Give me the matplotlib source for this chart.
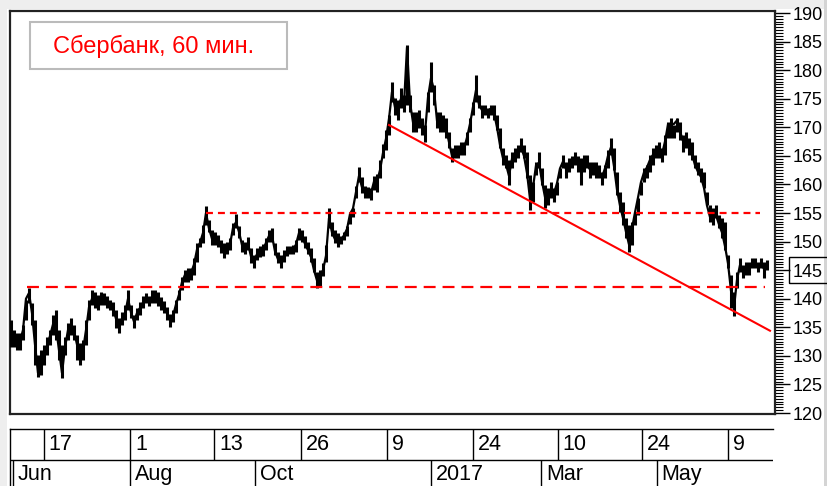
import matplotlib
matplotlib.use('Agg')
import matplotlib.pyplot as plt
from matplotlib.patches import Rectangle
from matplotlib.ticker import MultipleLocator
import numpy as np

plt.rcParams['font.family'] = ['Liberation Sans', 'DejaVu Sans']
plt.rcParams['lines.scale_dashes'] = False

# ---- data (hourly bars, sampled) ----
prices = [
    134.0, 133.0, 132.5, 132.6, 134.5, 140.0, 141.0, 137.5, 132.0, 127.0,
    128.5, 129.5, 131.5, 133.5, 135.5, 135.0, 131.0, 127.0, 131.5, 134.5,
    135.0, 134.3, 132.0, 130.5, 131.0, 134.5, 138.5, 140.0, 139.6, 139.4,
    139.8, 139.7, 139.4, 138.9, 138.4, 136.5, 135.3, 136.5, 137.3, 140.0,
    137.6, 136.0, 137.5, 138.4, 139.3, 139.8, 139.4, 140.3, 140.3, 139.9,
    139.2, 138.5, 137.5, 136.3, 137.0, 139.0, 140.7, 142.9, 144.2, 144.5,
    144.5, 146.0, 148.6, 149.8, 151.5, 155.0, 152.3, 150.5, 150.3, 150.2,
    149.2, 148.5, 148.7, 149.5, 152.4, 153.4, 151.7, 149.4, 148.9, 149.6,
    147.4, 146.6, 147.8, 148.1, 148.5, 149.8, 151.0, 151.0, 148.3, 146.9,
    146.5, 147.5, 148.2, 148.5, 148.5, 149.5, 151.5, 151.0, 149.6, 148.5,
    147.3, 145.0, 143.2, 143.8, 145.0, 147.5, 154.1, 151.6, 150.4, 149.9,
    150.3, 151.1, 152.2, 154.8, 155.8, 158.7, 161.5, 159.5, 158.7, 158.5,
    158.5, 160.5, 160.5, 162.5, 165.5, 168.0, 171.5, 176.2, 173.5, 173.5,
    175.0, 174.0, 184.0, 174.3, 170.9, 170.9, 171.3, 170.1, 169.1, 175.2,
    178.6, 176.5, 171.2, 170.9, 170.7, 169.9, 167.4, 165.0, 165.6, 165.6,
    166.3, 166.3, 168.2, 170.6, 173.5, 176.5, 174.0, 173.0, 173.2, 172.9,
    173.3, 172.5, 170.0, 166.9, 164.6, 163.5, 161.5, 164.5, 165.2, 165.8,
    166.5, 165.0, 162.0, 157.5, 159.5, 163.3, 163.8, 160.5, 157.8, 158.2,
    158.8, 158.5, 160.2, 162.8, 164.0, 162.7, 163.3, 164.2, 164.5, 163.5,
    162.8, 163.8, 163.5, 162.6, 162.7, 162.4, 161.7, 161.3, 162.8, 165.0,
    166.5, 163.2, 159.1, 156.3, 154.1, 151.7, 149.5, 152.3, 155.1, 157.7,
    160.4, 162.1, 163.0, 164.3, 165.2, 165.7, 165.7, 165.3, 167.5, 170.5,
    170.5, 170.6, 171.2, 169.3, 167.6, 167.6, 166.6, 165.3, 163.4, 162.2,
    161.3, 159.4, 156.3, 154.3, 154.4, 154.6, 153.0, 151.6, 149.2, 146.2,
    141.4, 138.5, 143.3, 145.9, 145.0, 145.3, 145.5, 146.2, 146.2, 145.6,
    146.2, 145.2, 146.0,
]
highs = [
    136.3, 134.5, 134.0, 134.0, 135.4, 139.8, 141.9, 139.2, 136.3, 130.2,
    131.0, 131.9, 133.3, 134.5, 137.2, 138.0, 134.5, 131.9, 133.3, 135.8,
    136.6, 135.4, 133.7, 132.3, 132.8, 136.3, 139.8, 141.5, 141.2, 140.6,
    141.2, 141.0, 140.5, 139.8, 139.4, 138.0, 136.6, 137.7, 138.9, 141.5,
    138.9, 137.2, 138.4, 139.4, 140.5, 141.0, 140.5, 141.5, 141.5, 141.2,
    140.3, 139.6, 138.6, 137.3, 138.0, 139.8, 141.5, 143.8, 145.0, 145.4,
    145.4, 147.1, 149.8, 150.6, 152.9, 156.2, 153.8, 152.0, 151.7, 151.2,
    150.3, 149.8, 149.9, 150.6, 153.3, 154.8, 152.7, 150.3, 149.9, 150.8,
    148.9, 147.7, 148.9, 149.2, 149.6, 150.6, 152.0, 152.4, 149.8, 148.2,
    147.7, 148.5, 149.2, 149.2, 149.4, 150.3, 152.4, 152.0, 151.0, 149.9,
    148.9, 147.1, 144.7, 145.0, 146.2, 149.4, 155.9, 153.4, 152.0, 151.5,
    151.0, 151.7, 152.7, 155.2, 155.9, 159.7, 163.0, 161.3, 159.7, 159.5,
    159.4, 161.5, 161.8, 164.3, 167.1, 169.5, 172.2, 177.9, 175.1, 174.8,
    176.9, 175.7, 184.4, 175.7, 172.7, 172.7, 173.0, 171.6, 170.4, 176.2,
    181.4, 177.4, 172.7, 172.7, 172.2, 171.6, 169.2, 166.4, 166.9, 166.9,
    167.4, 167.4, 169.2, 171.6, 174.4, 179.2, 175.7, 173.9, 173.9, 173.4,
    173.9, 173.9, 172.2, 169.9, 166.4, 165.2, 164.3, 165.7, 166.4, 166.9,
    168.1, 166.9, 165.7, 161.7, 160.4, 163.9, 165.7, 162.9, 159.9, 159.4,
    160.4, 159.4, 160.4, 162.9, 165.2, 163.9, 164.6, 165.0, 165.7, 165.0,
    164.6, 165.2, 165.2, 163.9, 163.9, 163.9, 163.4, 162.2, 163.4, 166.0,
    168.1, 166.4, 162.2, 158.7, 156.9, 154.1, 152.9, 153.4, 155.2, 157.6,
    160.4, 162.9, 163.4, 165.2, 166.4, 166.9, 167.4, 166.4, 168.7, 170.9,
    171.6, 170.4, 171.6, 170.9, 168.7, 169.2, 168.1, 167.4, 165.2, 163.9,
    162.9, 162.2, 158.7, 156.4, 155.9, 156.4, 154.7, 154.1, 153.4, 147.7,
    144.2, 141.2, 144.7, 147.1, 145.9, 146.4, 146.4, 147.1, 147.1, 146.4,
    147.1, 146.4, 146.8,
]
lows = [
    131.6, 131.6, 131.0, 131.0, 132.8, 136.3, 139.2, 135.4, 128.4, 126.3,
    126.6, 128.4, 130.2, 131.9, 133.7, 132.8, 129.3, 126.1, 130.2, 132.8,
    133.7, 132.8, 129.3, 128.4, 129.3, 131.9, 136.3, 138.9, 138.4, 138.0,
    138.9, 138.9, 138.4, 138.0, 137.0, 134.9, 134.0, 135.4, 136.3, 138.0,
    136.6, 134.9, 136.3, 137.2, 138.4, 139.2, 138.7, 139.2, 139.2, 138.7,
    138.0, 137.5, 136.3, 135.0, 135.9, 137.5, 139.8, 141.5, 142.9, 142.9,
    143.3, 144.2, 146.4, 149.0, 149.8, 152.9, 151.7, 149.4, 149.4, 149.1,
    148.0, 147.1, 147.8, 148.5, 151.2, 152.4, 150.6, 148.2, 147.8, 148.5,
    146.3, 145.4, 146.8, 147.3, 147.5, 148.5, 149.9, 149.9, 147.7, 146.3,
    145.4, 146.4, 147.5, 147.8, 147.8, 148.2, 150.3, 149.9, 148.9, 147.8,
    146.4, 144.7, 141.9, 142.0, 144.0, 146.4, 152.4, 151.0, 149.8, 149.0,
    149.6, 150.3, 151.0, 153.1, 154.3, 157.6, 160.4, 158.5, 157.6, 157.6,
    157.3, 159.0, 158.7, 161.1, 164.6, 166.0, 168.7, 174.4, 172.2, 171.3,
    173.4, 172.7, 173.9, 172.7, 169.2, 169.2, 169.9, 168.7, 167.4, 172.7,
    176.2, 173.9, 169.9, 169.2, 169.2, 168.1, 166.4, 163.9, 164.6, 164.6,
    165.2, 165.2, 166.9, 169.2, 172.2, 174.4, 173.4, 171.6, 172.2, 171.6,
    172.2, 171.3, 169.5, 166.4, 163.4, 162.9, 159.9, 162.9, 163.9, 164.6,
    165.7, 164.6, 161.1, 155.5, 156.9, 161.7, 162.9, 159.9, 155.9, 156.4,
    157.6, 156.9, 158.2, 161.1, 162.9, 161.1, 162.2, 162.9, 163.4, 162.2,
    159.9, 162.2, 162.9, 161.1, 161.7, 161.1, 161.1, 159.9, 161.1, 162.9,
    165.2, 162.5, 158.2, 155.2, 152.9, 150.6, 148.2, 149.4, 152.9, 154.7,
    158.2, 160.4, 161.1, 162.2, 163.4, 164.6, 164.6, 163.9, 165.2, 168.1,
    168.1, 168.1, 169.2, 167.8, 165.7, 166.4, 165.2, 164.3, 162.9, 161.7,
    160.4, 159.4, 156.4, 153.4, 152.9, 154.1, 152.4, 150.6, 148.5, 145.4,
    138.4, 137.0, 141.9, 144.7, 143.6, 144.2, 144.2, 145.4, 145.4, 144.7,
    145.4, 143.6, 145.0,
]
support_low = 142.0
support_low_span = (5.3, 251.3)
support_high = 155.0
support_high_span = (65.0, 249.7)
trend_start = (126.0, 170.4)
trend_end = (253.0, 134.4)

day_ticks = [11.0, 39.7, 67.7, 96.7, 125.3, 154.0, 182.3, 210.3, 239.0]
day_labels = ['17', '1', '13', '26', '9', '24', '10', '24', '9']
month_ticks = [0.67, 39.7, 81.3, 140.0, 176.7, 215.3]
month_labels = ['Jun', 'Aug', 'Oct', '2017', 'Mar', 'May']
last_price = 145
title = 'Сбербанк, 60 мин.'

# ---- figure ----
W, H = 827, 486
fig = plt.figure(figsize=(W / 100, H / 100), dpi=100)
fig.patch.set_facecolor('white')

def fx(px):
    return px / W

def fy(py):
    return 1 - py / H

# light grey margins
fig.add_artist(Rectangle((0, 0), fx(7), 1, transform=fig.transFigure,
                         fc='#eeeeee', ec='none', zorder=-2))
fig.add_artist(Rectangle((0, fy(9)), 1, 9 / H, transform=fig.transFigure,
                         fc='#eeeeee', ec='none', zorder=-2))
fig.add_artist(Rectangle((fx(824), 0), 3 / W, 1, transform=fig.transFigure,
                         fc='#d4d4d4', ec='none', zorder=-2))

ax = fig.add_axes([fx(10), fy(414), (775 - 10) / W, (414 - 11) / H])
ax.set_facecolor('white')
x = np.arange(len(prices))
ax.vlines(x, lows, highs, colors='black', lw=2.2, zorder=3)
ax.plot(x, prices, color='black', lw=1.6, solid_joinstyle='miter', zorder=3)

ax.hlines(support_low, *support_low_span, colors='#ff0000', lw=1.6,
          linestyles=(0, (8.6, 5.0)), zorder=4)
ax.hlines(support_high, *support_high_span, colors='#ff0000', lw=1.6,
          linestyles=(0, (5.0, 3.6)), zorder=4)
ax.plot([trend_start[0], trend_end[0]], [trend_start[1], trend_end[1]],
        color='#ff0000', lw=1.5, zorder=4)

ax.set_xlim(-1 / 3, (775 - 11) / 3)
ax.set_ylim(119.83, 190.35)
ax.set_xticks([])
ax.yaxis.tick_right()
ax.yaxis.set_major_locator(MultipleLocator(5))
ax.yaxis.set_minor_locator(MultipleLocator(0.5))
ax.tick_params(axis='y', which='major', length=11, width=1, pad=2,
               labelsize=13, colors='black')
ax.tick_params(axis='y', which='minor', length=6, width=0.8)
for sp in ax.spines.values():
    sp.set_linewidth(1.6)
    sp.set_color('#222222')

# current price box
fig.add_artist(Rectangle((fx(789), fy(283)), 60 / W, 26 / H,
                         transform=fig.transFigure, fill=False,
                         ec='black', lw=1.0, zorder=6))

# title box
fig.add_artist(Rectangle((fx(30), fy(69)), (287 - 30) / W, (69 - 22) / H,
                         transform=fig.transFigure, fc='white',
                         ec='#bbbbbb', lw=1.5, zorder=6))
fig.text(fx(154), fy(46), title, color='#ff0000', fontsize=17,
         ha='center', va='center', zorder=7)

# ---- date strip ----
ax2 = fig.add_axes([fx(10), fy(490), (773 - 10) / W, (490 - 429) / H])
ax2.set_facecolor('none')
ax2.set_xlim(-1 / 3, (773 - 11) / 3)
ax2.set_ylim(0, 2)
ax2.set_xticks([])
ax2.set_yticks([])
for side in ('right', 'bottom'):
    ax2.spines[side].set_visible(False)
for side in ('top', 'left'):
    ax2.spines[side].set_linewidth(1.0)
    ax2.spines[side].set_color('black')
ax2.axhline(1, color='black', lw=1.0)
ax2.vlines(day_ticks, 1, 2, colors='black', lw=1.0)
ax2.vlines(month_ticks, 0, 1, colors='black', lw=1.0)
for t, lab in zip(day_ticks, day_labels):
    ax2.text(t + 1.6, 1.5, lab, fontsize=15.5, ha='left', va='center')
for t, lab in zip(month_ticks, month_labels):
    ax2.text(t + 1.6, 0.52, lab, fontsize=15.5, ha='left', va='center')

fig.savefig('out.png', dpi=100)
